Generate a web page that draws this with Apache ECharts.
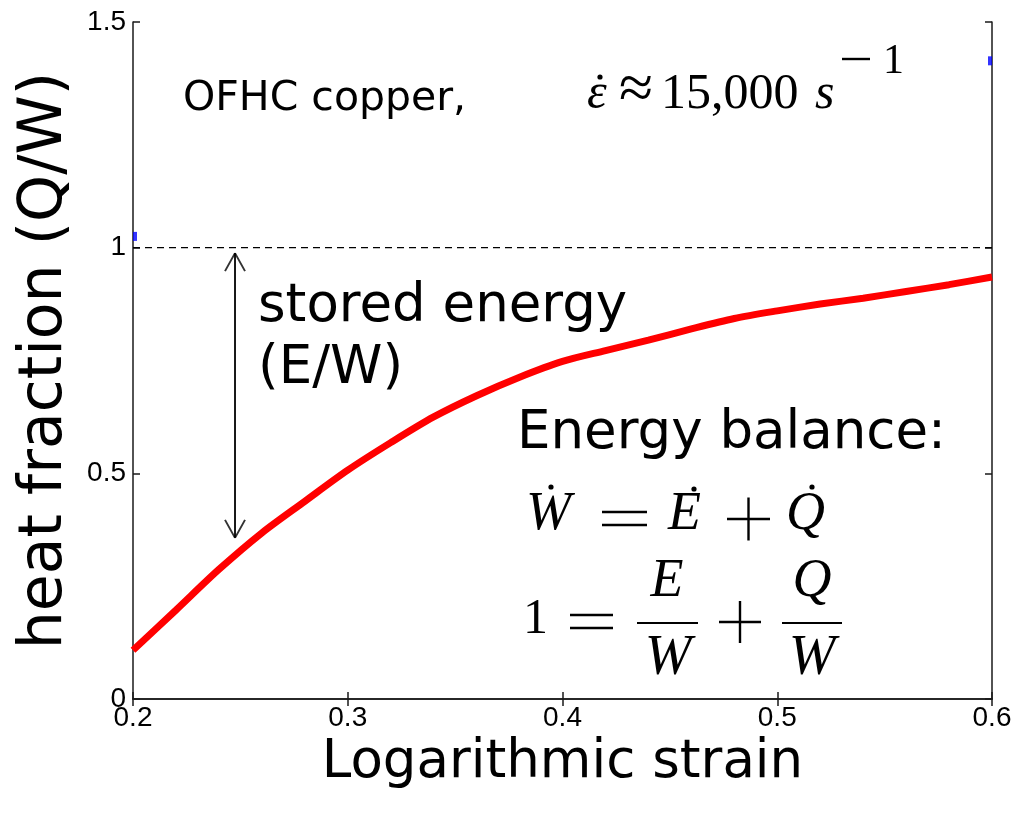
<!DOCTYPE html>
<html>
<head>
<meta charset="utf-8">
<script src="https://cdn.jsdelivr.net/npm/echarts@6/dist/echarts.min.js"></script>
<style>
html,body{margin:0;padding:0;background:#fff;}
#chart{width:1029px;height:816px;}
</style>
</head>
<body>
<div id="chart"></div>
<script>
// Data
const strain = [0.20, 0.22, 0.24, 0.26, 0.28, 0.30, 0.32, 0.34, 0.36, 0.38, 0.40, 0.42, 0.44, 0.46, 0.48, 0.50, 0.52, 0.54, 0.56, 0.58, 0.60];
const heatFraction = [0.108, 0.197, 0.287, 0.368, 0.438, 0.507, 0.568, 0.625, 0.672, 0.713, 0.748, 0.772, 0.795, 0.82, 0.843, 0.86, 0.875, 0.888, 0.903, 0.918, 0.935];
const blueMarks = [[0.2, 1.025], [0.6, 1.414]];
const refLineX = [0.2, 0.604];
const refLineY = 1;
const arrowX = 0.2475;
const arrowY = [0.988, 0.357];
const xTicks = [0.2, 0.3, 0.4, 0.5, 0.6];
const yTicks = [0, 0.5, 1, 1.5];

const chart = echarts.init(document.getElementById('chart'), null, {renderer: 'canvas'});

const SANS = '"DejaVu Sans"';
const SERIF = '"Liberation Serif"';
const axisLineStyle = {color: '#1a1a1a', width: 1.5};
const tickRich = {t: {fontFamily: 'Liberation Sans', fontSize: 28, color: '#000', lineHeight: 30}};

function tx(text, x, y, font, align) {
  return {type: 'text', x: x, y: y, z: 100, style: {text: text, font: font, fill: '#000',
    align: align || 'left', verticalAlign: 'middle', textAlign: align || 'left', textVerticalAlign: 'middle'}};
}
function dot(x, y) { return {type: 'circle', z: 100, shape: {cx: x, cy: y, r: 2.6}, style: {fill: '#000'}}; }
function seg(x1, y1, x2, y2, w) { return {type: 'line', z: 100, shape: {x1: x1, y1: y1, x2: x2, y2: y2}, style: {stroke: '#000', lineWidth: w || 1.8}}; }
function eq(cx, cy, half) { return [seg(cx - half, cy - 6.5, cx + half, cy - 6.5, 2.4), seg(cx - half, cy + 6.5, cx + half, cy + 6.5, 2.4)]; }
function plus(cx, cy, half) { return [seg(cx - half, cy, cx + half, cy, 2.4), seg(cx, cy - half, cx, cy + half, 2.4)]; }

const arrowPath = 'path://M10,0 L20,18 M10,0 L0,18';

const option = {
  backgroundColor: '#fff',
  animation: false,
  grid: {left: 133, right: 37, top: 22, bottom: 117, containLabel: false},
  xAxis: [{
    type: 'value', min: 0.2, max: 0.6, interval: 0.1,
    name: 'Logarithmic strain', nameLocation: 'middle', nameGap: 34,
    nameTextStyle: {fontFamily: SANS, fontSize: 53, color: '#000'},
    axisLine: {show: true, lineStyle: axisLineStyle},
    axisTick: {show: true, inside: true, length: 7, lineStyle: axisLineStyle},
    axisLabel: {fontFamily: 'Liberation Sans', fontSize: 28, color: '#000', margin: 4,
      formatter: v => '{t|' + v + '}', rich: tickRich},
    splitLine: {show: false}
  }, {
    type: 'value', position: 'top', min: 0.2, max: 0.6, interval: 0.1,
    axisLine: {show: true, lineStyle: axisLineStyle},
    axisTick: {show: true, inside: true, length: 7, lineStyle: axisLineStyle},
    axisLabel: {show: false}, splitLine: {show: false}
  }],
  yAxis: [{
    type: 'value', min: 0, max: 1.5, interval: 0.5,
    name: 'heat fraction (Q/W)', nameLocation: 'middle', nameGap: 58,
    nameTextStyle: {fontFamily: SANS, fontSize: 60, color: '#000'},
    axisLine: {show: true, lineStyle: axisLineStyle},
    axisTick: {show: true, inside: true, length: 7, lineStyle: axisLineStyle},
    axisLabel: {fontFamily: 'Liberation Sans', fontSize: 28, color: '#000', margin: 7,
      formatter: v => '{t|' + v + '}', rich: tickRich},
    splitLine: {show: false}
  }, {
    type: 'value', position: 'right', min: 0, max: 1.5, interval: 0.5,
    axisLine: {show: true, lineStyle: axisLineStyle},
    axisTick: {show: true, inside: true, length: 7, lineStyle: axisLineStyle},
    axisLabel: {show: false}, splitLine: {show: false}
  }],
  series: [
    {
      type: 'line', name: 'ref', clip: false, symbol: 'none', silent: true,
      data: refLineX.map(x => [x, refLineY]),
      lineStyle: {color: '#000', width: 1.2, type: [7, 5]}
    },
    {
      type: 'line', name: 'heat', symbol: 'none', smooth: 0.3,
      data: strain.map((x, i) => [x, heatFraction[i]]),
      lineStyle: {color: '#ff0000', width: 7}
    },
    {
      type: 'line', name: 'arrowShaft', symbol: 'none',
      data: arrowY.map(y => [arrowX, y]),
      lineStyle: {color: '#000', width: 1.8}
    },
    {
      type: 'scatter', name: 'arrowHeads',
      data: [
        {value: [arrowX, arrowY[0]], symbolRotate: 0, symbolOffset: [0, 9]},
        {value: [arrowX, arrowY[1]], symbolRotate: 180, symbolOffset: [0, -9]}
      ],
      symbol: arrowPath, symbolSize: [20, 18],
      itemStyle: {color: 'rgba(0,0,0,0)', borderColor: '#000', borderWidth: 1.8}
    },
    {
      type: 'scatter', name: 'blue', clip: false,
      data: [
        {value: blueMarks[0], symbolOffset: [2, 0]},
        {value: blueMarks[1], symbolOffset: [-2, 0]}
      ],
      symbol: 'rect', symbolSize: [4, 9],
      itemStyle: {color: '#0000ff'}
    }
  ],
  graphic: [
    tx('OFHC copper,', 183, 99, '41px ' + SANS),
    tx('\u03b5', 587, 95, 'italic 50px ' + SERIF),
    dot(600, 77),
    tx('\u2248', 636, 92, '62px ' + SERIF, 'center'),
    tx('15,000', 661, 95, '50px ' + SERIF),
    tx('s', 815, 95, 'italic 50px ' + SERIF),
    seg(842, 59, 870, 59, 2.4),
    tx('1', 883, 62, '42px ' + SERIF),

    tx('stored energy', 258, 307, '53px ' + SANS),
    tx('(E/W)', 258, 369, '53px ' + SANS),
    tx('Energy balance:', 517, 434, '53px ' + SANS),

    tx('W', 526, 515, 'italic 54px ' + SERIF),
    dot(551, 487),
    ...eq(624.5, 518.5, 22.5),
    tx('E', 668, 515, 'italic 54px ' + SERIF),
    dot(694, 489),
    ...plus(748.5, 519, 21.5),
    tx('Q', 786, 515, 'italic 54px ' + SERIF),
    dot(812, 487),

    tx('1', 523, 620, '50px ' + SERIF),
    ...eq(591.5, 621.5, 21.5),
    tx('E', 667, 582, 'italic 54px ' + SERIF, 'center'),
    seg(637, 623, 698, 623, 1.8),
    tx('W', 668, 659, 'italic 56px ' + SERIF, 'center'),
    ...plus(740, 622, 21),
    tx('Q', 812, 582, 'italic 54px ' + SERIF, 'center'),
    seg(782, 623, 842, 623, 1.8),
    tx('W', 812, 659, 'italic 56px ' + SERIF, 'center')
  ]
};
chart.setOption(option);
</script>
</body>
</html>
